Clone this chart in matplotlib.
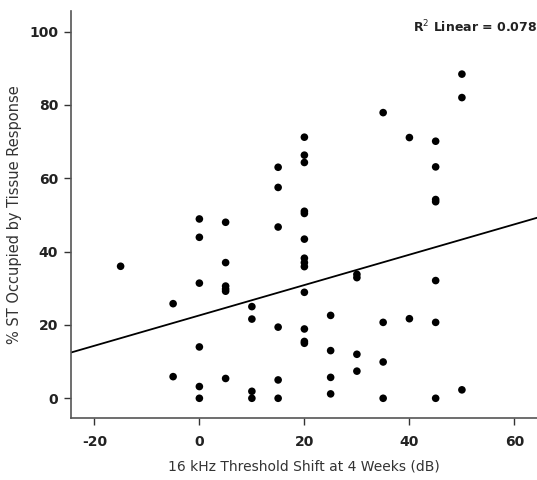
import matplotlib
matplotlib.use("Agg")
import matplotlib.pyplot as plt
import numpy as np

# threshold shift (dB) and % ST occupied
shift = [-15,
         -5, -5,
         0, 0, 0, 0, 0, 0,
         5, 5, 5, 5, 5, 5,
         10, 10, 10, 10,
         15, 15, 15, 15, 15, 15,
         20, 20, 20, 20, 20, 20, 20, 20, 20, 20, 20, 20, 20,
         25, 25, 25, 25,
         30, 30, 30, 30,
         35, 35, 35, 35,
         40, 40,
         45, 45, 45, 45, 45, 45, 45,
         50, 50, 50]
occupied = [36.0,
            25.8, 5.9,
            48.9, 43.9, 31.4, 14.0, 3.2, 0.0,
            48.0, 37.0, 30.6, 29.8, 29.2, 5.4,
            25.0, 21.6, 1.9, 0.0,
            63.0, 57.5, 46.7, 19.4, 5.0, 0.0,
            71.2, 66.3, 64.3, 51.0, 50.4, 43.4, 38.2, 37.0, 35.9, 28.9, 18.9, 15.5, 15.0,
            22.6, 13.0, 5.7, 1.2,
            33.8, 32.9, 12.0, 7.4,
            77.9, 20.7, 9.9, 0.0,
            71.1, 21.7,
            70.1, 63.1, 54.2, 53.6, 32.1, 20.7, 0.0,
            88.4, 82.0, 2.3]

# linear fit shown on the chart
fit_intercept = 22.6
fit_slope = 0.414
r2_text = "R$^2$ Linear = 0.078"

xticks = [-20, 0, 20, 40, 60]
xticklabels = ["-20", "0", "20", "40", "60"]
yticks = [0, 20, 40, 60, 80, 100]

fig = plt.figure(figsize=(5.37, 4.80), dpi=100)
ax = fig.add_axes([0.1317, 0.129, 0.8683, 0.848])

ax.scatter(shift, occupied, s=30, color="black", edgecolors="none", zorder=3)

xlim = (-24.5, 64.3)
xs = np.array(xlim)
ax.plot(xs, fit_intercept + fit_slope * xs, color="black", lw=1.3, zorder=2)

ax.set_xlim(*xlim)
ax.set_ylim(-5.4, 105.6)
ax.set_xticks(xticks)
ax.set_xticklabels(xticklabels)
ax.set_yticks(yticks)

for side in ("top", "right"):
    ax.spines[side].set_visible(False)
for side in ("left", "bottom"):
    ax.spines[side].set_color("#555555")
    ax.spines[side].set_linewidth(1.2)

ax.tick_params(direction="out", length=5, width=1, color="#333333",
               labelsize=10, labelcolor="#222222", pad=4)
for lab in ax.get_xticklabels() + ax.get_yticklabels():
    lab.set_fontweight("bold")
ax.tick_params(axis="x", pad=7)

ax.set_xlabel("16 kHz Threshold Shift at 4 Weeks (dB)", fontsize=10,
              color="#333333", labelpad=8)
ax.set_ylabel("% ST Occupied by Tissue Response", fontsize=10.5,
              color="#333333", labelpad=5)

ax.text(1.0, 0.98, r2_text, transform=ax.transAxes, ha="right", va="top",
        fontsize=9, fontweight="bold", color="#222222")

fig.savefig("out.png", dpi=100)
